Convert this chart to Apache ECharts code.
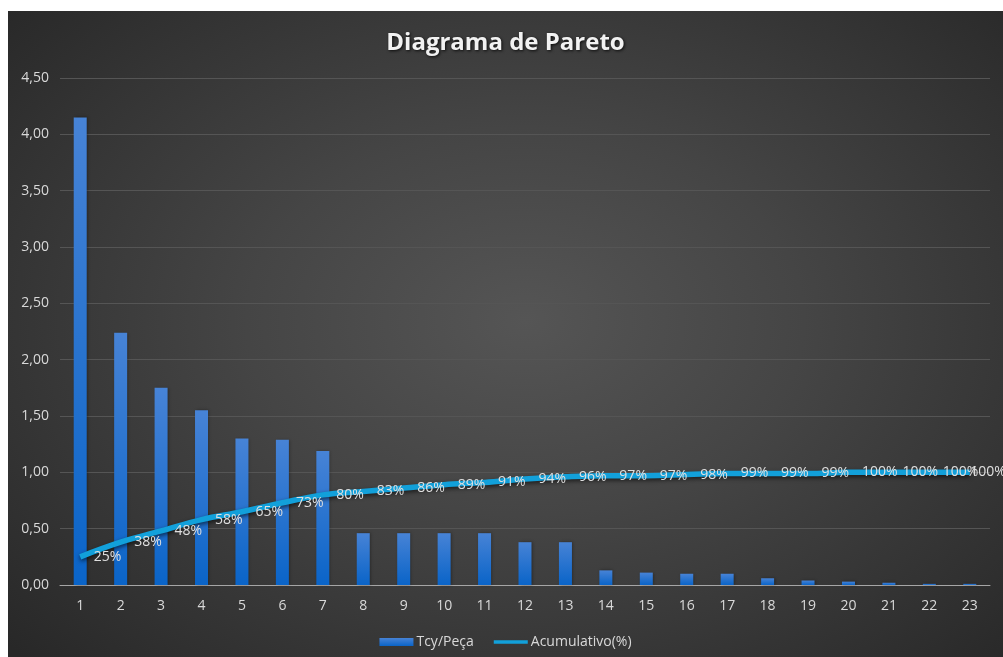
<!DOCTYPE html>
<html>
<head>
<meta charset="utf-8">
<script src="https://cdn.jsdelivr.net/npm/echarts@6/dist/echarts.min.js"></script>
<style>
html,body{margin:0;padding:0;background:#ffffff;width:1003px;height:657px;overflow:hidden;}
#chart{position:absolute;left:8px;top:11px;width:995px;height:646px;
background:radial-gradient(ellipse 70% 75% at 52% 48%, #555555 0%, #454545 40%, #282828 100%);}
</style>
</head>
<body>
<div id="chart"></div>
<script>
const categories = ['1','2','3','4','5','6','7','8','9','10','11','12','13','14','15','16','17','18','19','20','21','22','23'];
const tcyPeca = [4.15,2.24,1.75,1.55,1.30,1.29,1.19,0.46,0.46,0.46,0.46,0.38,0.38,0.13,0.11,0.10,0.10,0.06,0.04,0.03,0.02,0.01,0.01];
const acumulativoPct = [25,38,48,58,65,73,80,83,86,89,91,94,96,97,97,98,99,99,99,100,100,100,100];
const yTicks = {min:0, max:4.5, interval:0.5};

const lineColor = '#12a0da';
const lastIdx = acumulativoPct.length - 1;
const lineData = acumulativoPct.map((v, i) => {
  const item = {value: v / 100};
  if (i === lastIdx) item.label = {show: true, opacity: 1, distance: 0, offset: [-1, 5]};
  return item;
});

const chart = echarts.init(document.getElementById('chart'), null, {renderer:'canvas'});
const fontFam = '"Open Sans", "Noto Sans", sans-serif';
chart.setOption({
  backgroundColor: 'transparent',
  animation: false,
  title: {
    text: 'Diagrama de Pareto',
    left: 'center',
    top: 15,
    textStyle: {
      color: '#f2f2f2', fontSize: 24, fontWeight: 'bold', fontFamily: fontFam,
      textShadowColor: 'rgba(0,0,0,0.8)', textShadowBlur: 3, textShadowOffsetX: 1, textShadowOffsetY: 1
    }
  },
  legend: {
    bottom: 3,
    left: 'center',
    itemGap: 20,
    textStyle: {color: '#d9d9d9', fontSize: 14, fontFamily: fontFam, padding: [0,0,0,-2]},
    data: [
      {name: 'Tcy/Peça', icon: 'rect', itemWidth: 32, itemHeight: 8},
      {name: 'Acumulativo(%)', icon: 'path://M0,3 L40,3 L40,7 L0,7 Z', itemWidth: 40, itemHeight: 6,
       itemStyle: {color: lineColor, opacity: 1}}
    ],
    itemWidth: 34,
    itemHeight: 8
  },
  grid: {left: 52, right: 13, top: 67, bottom: 72, containLabel: false},
  xAxis: {
    type: 'category',
    data: categories,
    axisLine: {lineStyle: {color: '#a6a6a6', width: 1}},
    axisTick: {show: false},
    axisLabel: {color: '#d9d9d9', fontSize: 14, fontFamily: fontFam, margin: 14}
  },
  yAxis: {
    type: 'value',
    min: yTicks.min, max: yTicks.max, interval: yTicks.interval,
    axisLine: {show: false},
    axisTick: {show: false},
    splitLine: {lineStyle: {color: '#555555', width: 1}},
    axisLabel: {
      color: '#d9d9d9', fontSize: 14, fontFamily: fontFam, margin: 11,
      formatter: v => v.toFixed(2).replace('.', ',')
    }
  },
  series: [
    {
      name: 'Tcy/Peça',
      type: 'bar',
      data: tcyPeca,
      barWidth: 13,
      itemStyle: {
        color: new echarts.graphic.LinearGradient(0,0,0,1,[
          {offset:0, color:'#4783d6'},
          {offset:1, color:'#0a64c8'}
        ]),
        shadowColor: 'rgba(0,0,0,0.35)', shadowBlur: 3, shadowOffsetX: 1
      }
    },
    {
      name: 'Acumulativo(%)',
      type: 'line',
      data: lineData,
      smooth: 0.4,
      symbol: 'circle',
      symbolSize: 1,
      showSymbol: true,
      lineStyle: {
        color: lineColor, width: 5.5,
        shadowColor: 'rgba(0,0,0,0.6)', shadowBlur: 4, shadowOffsetY: 2
      },
      itemStyle: {color: lineColor, opacity: 0},
      label: {
        show: true,
        opacity: 1,
        position: 'right',
        distance: 13,
        offset: [0, 6],
        color: '#e0e0e0',
        fontSize: 14,
        fontFamily: fontFam,
        formatter: p => Math.round(p.value * 100) + '%'
      },
      labelLayout: {hideOverlap: false},
      z: 3
    }
  ]
});
</script>
</body>
</html>
